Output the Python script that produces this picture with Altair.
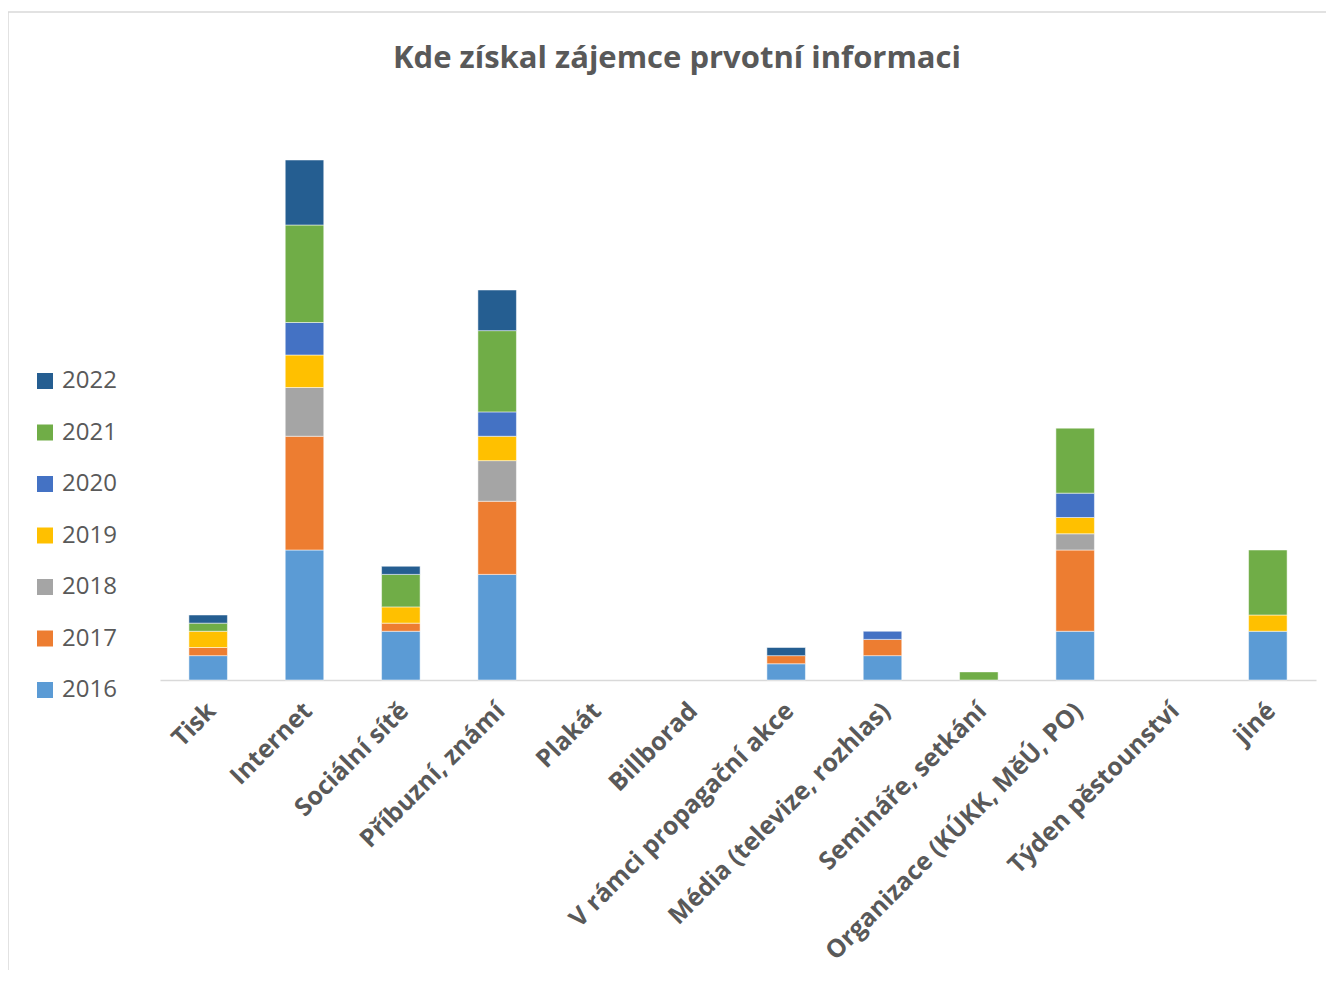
import altair as alt
import pandas as pd

categories = ["Tisk", "Internet", "Sociální sítě", "Příbuzní, známí", "Plakát", "Billborad",
              "V rámci propagační akce", "Média (televize, rozhlas)", "Semináře, setkání",
              "Organizace (KÚKK, MěÚ, PO)", "Týden pěstounství", "jiné"]
years = ["2016", "2017", "2018", "2019", "2020", "2021", "2022"]
colors = ["#5B9BD5", "#ED7D31", "#A5A5A5", "#FFC000", "#4472C4", "#70AD47", "#255E91"]

v2016 = [3, 16, 6, 13, 0, 0, 2, 3, 0, 6, 0, 6]
v2017 = [1, 14, 1, 9, 0, 0, 1, 2, 0, 10, 0, 0]
v2018 = [0, 6, 0, 5, 0, 0, 0, 0, 0, 2, 0, 0]
v2019 = [2, 4, 2, 3, 0, 0, 0, 0, 0, 2, 0, 2]
v2020 = [0, 4, 0, 3, 0, 0, 0, 1, 0, 3, 0, 0]
v2021 = [1, 12, 4, 10, 0, 0, 0, 0, 1, 8, 0, 8]
v2022 = [1, 8, 1, 5, 0, 0, 1, 0, 0, 0, 0, 0]
series = [v2016, v2017, v2018, v2019, v2020, v2021, v2022]

rows = []
for yi, (yr, vals) in enumerate(zip(years, series)):
    for c, v in zip(categories, vals):
        rows.append({"cat": c, "year": yr, "yidx": yi, "value": v})
df = pd.DataFrame(rows)

gray = "#595959"
font = "Open Sans"

bars = alt.Chart(df).transform_filter("datum.value > 0").mark_bar(
    stroke="white", strokeWidth=0.5
).encode(
    x=alt.X("cat:N", sort=categories,
            scale=alt.Scale(domain=categories, paddingInner=0.6, paddingOuter=0.3),
            axis=alt.Axis(title=None, labelAngle=-45, labelFontSize=25, labelFont=font,
                          labelFontWeight="bold", labelColor=gray, ticks=False,
                          domainColor="#d9d9d9", domainWidth=1.5, labelPadding=18,
                          labelOffset=-5, labelLimit=600)),
    y=alt.Y("value:Q", stack="zero", scale=alt.Scale(domain=[0, 72], nice=False), axis=None),
    color=alt.Color("year:N",
                    scale=alt.Scale(domain=years[::-1], range=colors[::-1]),
                    legend=alt.Legend(title=None, orient="none", legendX=-127, legendY=274,
                                      symbolType="square", symbolSize=256, symbolStrokeWidth=0,
                                      labelFontSize=24, labelFont=font, labelColor=gray,
                                      rowPadding=27.5, padding=0, labelOffset=5)),
    order=alt.Order("yidx:Q", sort="ascending"),
)

frame = pd.DataFrame({"a": [0]})
top_rule = alt.Chart(frame).mark_rule(color="#d9d9d9", strokeWidth=1.5).encode(
    x=alt.value(-152), x2=alt.value(1180), y=alt.value(-83))
left_rule = alt.Chart(frame).mark_rule(color="#d9d9d9", strokeWidth=1.5).encode(
    x=alt.value(-152), y=alt.value(-83), y2=alt.value(900))

chart = alt.layer(bars, top_rule, left_rule).properties(
    width=1156, height=585,
    autosize=alt.AutoSizeParams(type="none"),
    padding={"left": 152, "top": 87, "right": 10, "bottom": 290},
    title=alt.TitleParams("Kde získal zájemce prvotní informaci", fontSize=31, font=font,
                          fontWeight="bold", color=gray, anchor="middle", dx=-61,
                          offset=-88, baseline="alphabetic", frame="group"),
).configure_view(stroke=None)

chart.save("out.html", embed_options={"renderer": "svg", "actions": False})
